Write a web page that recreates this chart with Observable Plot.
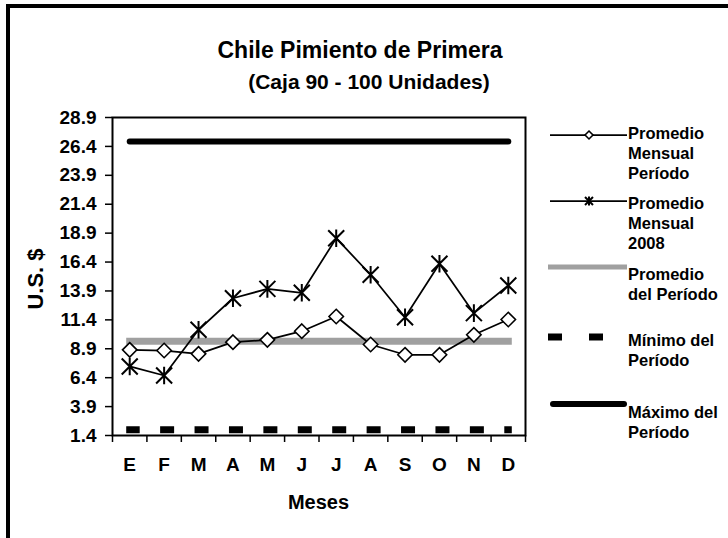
<!DOCTYPE html>
<html>
<head>
<meta charset="utf-8">
<script src="https://cdn.jsdelivr.net/npm/d3@7"></script>
<script src="https://cdn.jsdelivr.net/npm/@observablehq/plot@0.6"></script>
<style>
  html, body { margin: 0; padding: 0; background: #fff; overflow: hidden; }
  #wrap { position: relative; width: 728px; height: 538px; overflow: hidden; background: #fff;
          font-family: 'Liberation Sans', Arial, sans-serif; font-weight: bold; color: #000; }
  #border { position: absolute; left: 6px; top: 4px; width: 800px; height: 700px;
            border-left: 4px solid #000; border-top: 4px solid #000; box-sizing: border-box; }
  #chart { position: absolute; left: 0; top: 0; }
  #overlay { position: absolute; left: 0; top: 0; pointer-events: none; }
</style>
</head>
<body>
<div id="wrap">
  <div id="border"></div>
  <div id="chart"></div>
  <svg id="overlay" width="728" height="538"></svg>
</div>
<script>
// ---- Data ----
const monthLabels = ["E", "F", "M", "A", "M", "J", "J", "A", "S", "O", "N", "D"];
const promedioMensualPeriodo = [8.81, 8.75, 8.46, 9.47, 9.67, 10.42, 11.69, 9.27, 8.38, 8.38, 10.11, 11.43];
const promedioMensual2008 = [7.37, 6.59, 10.54, 13.27, 14.08, 13.74, 18.46, 15.30, 11.63, 16.25, 11.98, 14.37];
const promedioDelPeriodo = 9.56;
const minimoDelPeriodo = 1.89;
const maximoDelPeriodo = 26.83;
const yTicks = [1.4, 3.9, 6.4, 8.9, 11.4, 13.9, 16.4, 18.9, 21.4, 23.9, 26.4, 28.9];

const titleText = "Chile Pimiento de Primera";
const subtitleText = "(Caja 90 - 100 Unidades)";
const xTitle = "Meses";
const yTitle = "U.S. $";
const legendLabels = [
  ["Promedio", "Mensual", "Período"],
  ["Promedio", "Mensual", "2008"],
  ["Promedio", "del Período"],
  ["Mínimo del", "Período"],
  ["Máximo del", "Período"]
];

// ---- Build table ----
const idx = d3.range(monthLabels.length);
const rows = idx.map(i => ({
  i,
  pp: promedioMensualPeriodo[i],
  p08: promedioMensual2008[i],
  avg: promedioDelPeriodo,
  min: minimoDelPeriodo,
  max: maximoDelPeriodo
}));

const W = 728, H = 538;
const mL = 112, mR = 203, mT = 117, mB = 103;
const bw = (W - mL - mR) / monthLabels.length;
const FONT = "'Liberation Sans', Arial, sans-serif";

// Excel-style star marker: X plus vertical bar
const starSymbol = {
  draw(ctx, size) {
    const r = Math.sqrt(size / Math.PI);
    ctx.moveTo(-r, -r); ctx.lineTo(r, r);
    ctx.moveTo(r, -r); ctx.lineTo(-r, r);
    ctx.moveTo(0, -r * 1.1); ctx.lineTo(0, r * 1.1);
  }
};

const axisText = { fontSize: 19, fontWeight: "bold" };

const chart = Plot.plot({
  width: W, height: H,
  marginLeft: mL, marginRight: mR, marginTop: mT, marginBottom: mB,
  style: { fontFamily: FONT, fontSize: "19px", fontWeight: "bold",
           color: "#000", background: "transparent", overflow: "visible" },
  x: { type: "band", domain: idx, padding: 0, round: false },
  y: { domain: [1.4, 28.9] },
  marks: [
    Plot.frame({ stroke: "#000", strokeWidth: 2 }),
    Plot.axisY({ ticks: yTicks, tickFormat: d => d.toFixed(1), tickSize: 7, tickPadding: 9,
                 label: null, strokeWidth: 1.5, ...axisText }),
    Plot.axisX({ tickSize: 0, tickPadding: 22, tickFormat: i => monthLabels[i], label: null, ...axisText }),
    Plot.axisX({ tickSize: 7, tickFormat: () => "", dx: -bw / 2, label: null, strokeWidth: 1.5 }),
    Plot.axisX({ ticks: [idx[idx.length - 1]], tickSize: 7, tickFormat: () => "", dx: bw / 2, label: null, strokeWidth: 1.5 }),
    // Promedio del Período (gray band)
    Plot.lineY(rows, { x: "i", y: "avg", stroke: "#a0a0a0", strokeWidth: 7, strokeLinecap: "square" }),
    // Mínimo del Período (dashed)
    Plot.lineY(rows, { x: "i", y: "min", stroke: "#000", strokeWidth: 7, strokeLinecap: "square",
                       strokeDasharray: `7,${bw - 7}`, strokeDashoffset: 0.5 }),
    // Máximo del Período
    Plot.lineY(rows, { x: "i", y: "max", stroke: "#000", strokeWidth: 6, strokeLinecap: "round" }),
    // Promedio Mensual 2008
    Plot.lineY(rows, { x: "i", y: "p08", stroke: "#000", strokeWidth: 1.75 }),
    Plot.dot(rows, { x: "i", y: "p08", symbol: starSymbol, r: 8, stroke: "#000", fill: "none", strokeWidth: 2 }),
    // Promedio Mensual Período
    Plot.lineY(rows, { x: "i", y: "pp", stroke: "#000", strokeWidth: 1.75 }),
    Plot.dot(rows, { x: "i", y: "pp", symbol: "diamond2", r: 6.5, stroke: "#000", fill: "#fff", strokeWidth: 1.6 })
  ]
});
document.getElementById("chart").appendChild(chart);

// ---- Titles, axis titles and legend ----
const ov = d3.select("#overlay")
  .style("font-family", FONT)
  .style("font-weight", "bold");

ov.append("text").attr("x", 360).attr("y", 58).attr("text-anchor", "middle")
  .style("font-size", "23px").text(titleText);
ov.append("text").attr("x", 369).attr("y", 89).attr("text-anchor", "middle")
  .style("font-size", "21px").text(subtitleText);
ov.append("text").attr("x", (mL + W - mR) / 2).attr("y", 509).attr("text-anchor", "middle")
  .style("font-size", "20px").text(xTitle);
ov.append("text").attr("transform", "translate(43,279) rotate(-90)").attr("text-anchor", "middle")
  .style("font-size", "22px").text(yTitle);

const lg = ov.append("g");
const lx0 = 550, lx1 = 627, tx = 628;
// item 1: line with diamond
lg.append("line").attr("x1", lx0).attr("x2", lx1).attr("y1", 135).attr("y2", 135)
  .attr("stroke", "#000").attr("stroke-width", 1.75);
lg.append("path").attr("d", d3.symbol(d3.symbolDiamond2, 40)())
  .attr("transform", "translate(589,135)").attr("fill", "#fff").attr("stroke", "#000").attr("stroke-width", 1.6);
// item 2: line with star
lg.append("line").attr("x1", lx0).attr("x2", lx1).attr("y1", 201).attr("y2", 201)
  .attr("stroke", "#000").attr("stroke-width", 1.75);
lg.append("path").attr("d", d3.symbol(starSymbol, Math.PI * 16)())
  .attr("transform", "translate(589,201)").attr("fill", "none").attr("stroke", "#000").attr("stroke-width", 2);
// item 3: gray band
lg.append("line").attr("x1", 548).attr("x2", lx1).attr("y1", 267).attr("y2", 267)
  .attr("stroke", "#a0a0a0").attr("stroke-width", 5);
// item 4: dashes
lg.append("line").attr("x1", 548).attr("x2", 604).attr("y1", 337).attr("y2", 337)
  .attr("stroke", "#000").attr("stroke-width", 7).attr("stroke-dasharray", "14,27");
// item 5: thick line
lg.append("line").attr("x1", 553).attr("x2", 624).attr("y1", 404).attr("y2", 404)
  .attr("stroke", "#000").attr("stroke-width", 6).attr("stroke-linecap", "round");

const baselines = [[139, 159, 179], [209, 229, 249], [280, 300], [346, 366], [418, 438]];
legendLabels.forEach((lines, k) => {
  lines.forEach((s, j) => {
    lg.append("text").attr("x", tx).attr("y", baselines[k][j]).style("font-size", "16.5px").text(s);
  });
});
</script>
</body>
</html>
